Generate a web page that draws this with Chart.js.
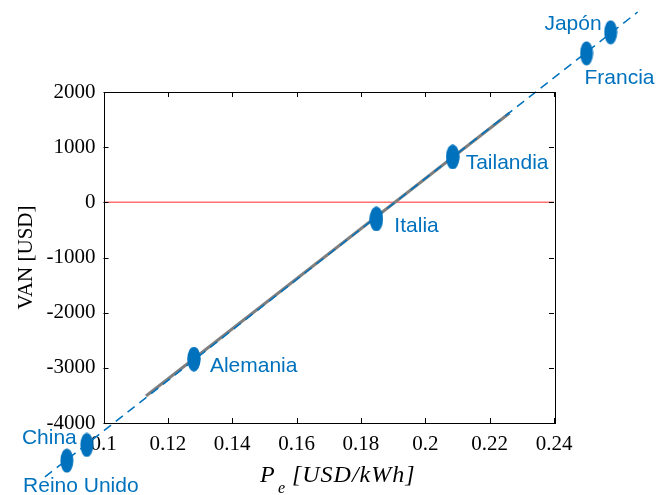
<!DOCTYPE html>
<html>
<head>
<meta charset="utf-8">
<script src="https://cdn.jsdelivr.net/npm/chart.js@4/dist/chart.umd.min.js"></script>
<style>
  html, body { margin: 0; padding: 0; background: #fff; }
  #wrap { width: 670px; height: 495px; }
</style>
</head>
<body>
<div id="wrap"><canvas id="vanChart" width="670" height="495"></canvas></div>
<script>
// data
const countries = ['Reino Unido', 'China', 'Alemania', 'Italia', 'Tailandia', 'Francia', 'Japón'];
const pe = [0.0886, 0.0948, 0.1281, 0.1848, 0.2085, 0.2501, 0.2576];
const van = [-4683, -4398, -2840, -302, 822, 2701, 3082];

// fitted trend (dashed) and model line (gray)
const trendPe = [0.0818, 0.2660];
const trendVan = [-4978, 3450];
const modelPe = [0.1132, 0.2262];
const modelVan = [-3510, 1619];

const xTicks = [0.1, 0.12, 0.14, 0.16, 0.18, 0.2, 0.22, 0.24];
const xTickLabels = ['0.1', '0.12', '0.14', '0.16', '0.18', '0.2', '0.22', '0.24'];
const yTicks = [-4000, -3000, -2000, -1000, 0, 1000, 2000];
const yTickLabels = ['-4000', '-3000', '-2000', '-1000', '0', '1000', '2000'];

// label placement relative to marker: [dx, dy, align]
const labelPlace = [
    [14, 26, 'center'],
    [-10, -7, 'right'],
    [16, 7, 'left'],
    [18, 7, 'left'],
    [13, 6, 'left'],
    [33, 25, 'center'],
    [-9, -8, 'right']
];

const blue = '#0072BD';
const serif = '"Liberation Serif", "Times New Roman", serif';
const sans = '"Liberation Sans", Arial, sans-serif';

// elliptical marker like the original
function ellipseMarker() {
    const c = document.createElement('canvas');
    c.width = 14; c.height = 25;
    const g = c.getContext('2d');
    g.fillStyle = blue;
    g.beginPath();
    g.ellipse(7, 12.5, 6.5, 12, 0, 0, Math.PI * 2);
    g.fill();
    return c;
}

function pairs(xs, ys) {
    return xs.map((x, i) => ({ x: x, y: ys[i] }));
}

// box, inward ticks, axis titles and country labels
const decorations = {
    id: 'decorations',
    afterDatasetsDraw(chart) {
        const ctx = chart.ctx;
        const a = chart.chartArea;
        const xs = chart.scales.x, ys = chart.scales.y;

        // markers outside the axes are skipped by Chart.js, redraw them without area check
        chart.getDatasetMeta(0).data.forEach(el => el.draw(ctx));

        ctx.save();
        ctx.strokeStyle = '#000';
        ctx.lineWidth = 1;
        ctx.beginPath();
        xTicks.forEach(v => {
            const px = Math.round(xs.getPixelForValue(v)) + 0.5;
            ctx.moveTo(px, a.bottom); ctx.lineTo(px, a.bottom - 5);
            ctx.moveTo(px, a.top); ctx.lineTo(px, a.top + 5);
        });
        yTicks.forEach(v => {
            const py = Math.round(ys.getPixelForValue(v)) + 0.5;
            ctx.moveTo(a.left, py); ctx.lineTo(a.left + 5, py);
            ctx.moveTo(a.right, py); ctx.lineTo(a.right - 5, py);
        });
        ctx.stroke();
        ctx.strokeRect(Math.round(a.left) + 0.5, Math.round(a.top) + 0.5,
            Math.round(a.right - a.left), Math.round(a.bottom - a.top));

        // y title
        ctx.fillStyle = '#000';
        ctx.font = '21px ' + serif;
        ctx.textAlign = 'center';
        ctx.textBaseline = 'middle';
        ctx.translate(26, (a.top + a.bottom) / 2);
        ctx.rotate(-Math.PI / 2);
        ctx.fillText('VAN [USD]', 0, 0);
        ctx.setTransform(1, 0, 0, 1, 0, 0);

        // x title with subscript
        ctx.textBaseline = 'alphabetic';
        ctx.textAlign = 'left';
        ctx.font = 'italic 24px ' + serif;
        ctx.letterSpacing = '1px';
        const wRest = ctx.measureText('[USD/kWh]').width;
        const total = 32 + wRest;
        const x0 = (a.left + a.right) / 2 + 9 - total / 2;
        const base = 482;
        ctx.fillText('P', x0, base);
        ctx.fillText('[USD/kWh]', x0 + 32, base);
        ctx.letterSpacing = '0px';
        ctx.font = 'italic 16px ' + serif;
        ctx.fillText('e', x0 + 18, base + 11);

        // country labels
        ctx.fillStyle = blue;
        ctx.font = '21px ' + sans;
        ctx.textBaseline = 'middle';
        countries.forEach((name, i) => {
            const p = labelPlace[i];
            ctx.textAlign = p[2];
            ctx.fillText(name, xs.getPixelForValue(pe[i]) + p[0], ys.getPixelForValue(van[i]) + p[1]);
        });
        ctx.restore();
    }
};

const ctx = document.getElementById('vanChart').getContext('2d');
const vanChart = new Chart(ctx, {
    type: 'scatter',
    data: {
        datasets: [
            {
                label: 'Países',
                data: pairs(pe, van),
                pointStyle: ellipseMarker(),
                pointRadius: 7,
                showLine: false,
                clip: false,
                order: 0
            },
            {
                label: 'Tendencia',
                data: pairs(trendPe, trendVan),
                showLine: true,
                borderColor: blue,
                borderWidth: 1.5,
                borderDash: [9, 6],
                pointRadius: 0,
                clip: false,
                order: 1
            },
            {
                label: 'Modelo',
                data: pairs(modelPe, modelVan),
                showLine: true,
                borderColor: '#7f7f7f',
                borderWidth: 3,
                pointRadius: 0,
                order: 2
            },
            {
                label: 'VAN = 0',
                data: pairs([xTicks[0], xTicks[xTicks.length - 1]], [0, 0]),
                showLine: true,
                borderColor: '#ff7070',
                borderWidth: 1.5,
                pointRadius: 0,
                order: 3
            }
        ]
    },
    options: {
        responsive: false,
        animation: false,
        layout: { padding: { top: 92, right: 116, left: 0, bottom: 0 } },
        plugins: {
            legend: { display: false },
            tooltip: { enabled: false }
        },
        scales: {
            x: {
                type: 'linear',
                min: 0.1,
                max: 0.24,
                afterFit: s => { s.height = 72; },
                afterBuildTicks: s => { s.ticks = xTicks.map(v => ({ value: v })); },
                grid: { display: false, drawTicks: false },
                border: { display: false },
                ticks: {
                    padding: 9,
                    color: '#000',
                    font: { family: serif, size: 21 },
                    callback: (v, i) => xTickLabels[i]
                }
            },
            y: {
                type: 'linear',
                min: -4000,
                max: 2000,
                afterFit: s => { s.width = 103.5; },
                afterBuildTicks: s => { s.ticks = yTicks.map(v => ({ value: v })); },
                grid: { display: false, drawTicks: false },
                border: { display: false },
                ticks: {
                    padding: 8,
                    color: '#000',
                    font: { family: serif, size: 21 },
                    callback: (v, i) => yTickLabels[i]
                }
            }
        }
    },
    plugins: [decorations]
});
</script>
</body>
</html>
